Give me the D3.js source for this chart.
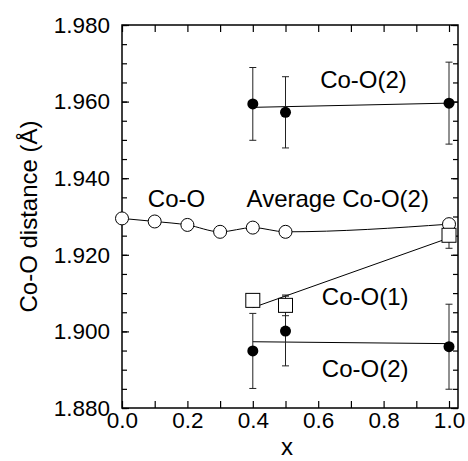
<!DOCTYPE html>
<html>
<head>
<meta charset="utf-8">
<script src="https://cdn.jsdelivr.net/npm/d3@7"></script>
<style>
  body { margin: 0; background: #fff; }
  svg text { font-family: "Liberation Sans", Arial, Helvetica, sans-serif; fill: #000; }
  .axis path { display: none; }
  .axis line { stroke: #000; stroke-width: 1.2; }
</style>
</head>
<body>
<div id="chart"></div>
<script>
// Co-O average distance (open circles)
const xCoO = [0.0, 0.1, 0.2, 0.3, 0.4, 0.5, 1.0];
const avgCoO = [1.9295, 1.9287, 1.9278, 1.926, 1.9271, 1.926, 1.928];

// substituted samples
const xSub = [0.4, 0.5, 1.0];
const coO2Upper = [1.9594, 1.9572, 1.9596];
const coO2UpperErr = [0.0095, 0.0093, 0.0107];
const coO1 = [1.9081, 1.9068, 1.9251];
const coO1Err = [0.0015, 0.0027, 0.0034];
const coO2Lower = [1.8949, 1.9001, 1.896];
const coO2LowerErr = [0.0098, 0.0091, 0.0111];

// linear fits
const fitX = [0.4, 1.0];
const fitUpper = [1.9585, 1.9596];
const fitCoO1 = [1.9062, 1.9244];
const fitLower = [1.8973, 1.8968];

const xTicks = [0, 0.1, 0.2, 0.3, 0.4, 0.5, 0.6, 0.7, 0.8, 0.9, 1.0];
const xLabels = [0, 0.2, 0.4, 0.6, 0.8, 1.0];
const yMajor = [1.88, 1.9, 1.92, 1.94, 1.96, 1.98];

const W = 468, H = 461;
const margin = { top: 25, right: 10, bottom: 53, left: 122 };
const width = W - margin.left - margin.right;
const height = H - margin.top - margin.bottom;

const svg = d3.select("#chart").append("svg")
  .attr("width", W)
  .attr("height", H);
const g = svg.append("g")
  .attr("transform", `translate(${margin.left},${margin.top})`);

const x = d3.scaleLinear().domain([0, 1.0275]).range([0, width]);
const y = d3.scaleLinear().domain([1.88, 1.98]).range([height, 0]);

const yMinor = d3.range(0, 21).map((i) => 1.88 + i * 0.005);

// axes: ticks point inward on all four sides
g.append("g").attr("class", "axis")
  .call(d3.axisLeft(y).tickValues(yMinor).tickSizeInner(-5).tickSizeOuter(0).tickFormat(""));
g.append("g").attr("class", "axis")
  .call(d3.axisLeft(y).tickValues(yMajor).tickSizeInner(-7).tickSizeOuter(0)
    .tickPadding(12).tickFormat(d3.format(".3f")))
  .selectAll("text").style("font-size", "22.5px");

g.append("g").attr("class", "axis")
  .attr("transform", `translate(${width},0)`)
  .call(d3.axisRight(y).tickValues(yMinor).tickSizeInner(-5).tickSizeOuter(0).tickFormat(""));
g.append("g").attr("class", "axis")
  .attr("transform", `translate(${width},0)`)
  .call(d3.axisRight(y).tickValues(yMajor).tickSizeInner(-7).tickSizeOuter(0).tickFormat(""));

g.append("g").attr("class", "axis")
  .attr("transform", `translate(0,${height})`)
  .call(d3.axisBottom(x).tickValues(xTicks).tickSizeInner(-7).tickSizeOuter(0).tickFormat(""));
g.append("g").attr("class", "axis")
  .attr("transform", `translate(0,${height})`)
  .call(d3.axisBottom(x).tickValues(xLabels).tickSize(0).tickPadding(4)
    .tickFormat(d3.format(".1f")))
  .selectAll("text").style("font-size", "22.5px");

g.append("g").attr("class", "axis")
  .call(d3.axisTop(x).tickValues(xTicks).tickSizeInner(-7).tickSizeOuter(0).tickFormat(""));

g.append("rect")
  .attr("width", width)
  .attr("height", height)
  .attr("fill", "none")
  .attr("stroke", "#000")
  .attr("stroke-width", 1.5);

// lines
const avgLine = d3.line()
  .x((d) => x(d[0]))
  .y((d) => y(d[1]))
  .curve(d3.curveMonotoneX);
g.append("path")
  .datum(xCoO.map((v, i) => [v, avgCoO[i]]))
  .attr("d", avgLine)
  .attr("fill", "none")
  .attr("stroke", "#000")
  .attr("stroke-width", 1);

const straight = d3.line().x((d) => x(d[0])).y((d) => y(d[1]));
[fitUpper, fitCoO1, fitLower].forEach((fit) => {
  g.append("path")
    .datum(fitX.map((v, i) => [v, fit[i]]))
    .attr("d", straight)
    .attr("fill", "none")
    .attr("stroke", "#000")
    .attr("stroke-width", 1);
});

// error bars
function errorBars(vals, errs) {
  const data = xSub.map((v, i) => ({ x: v, y: vals[i], e: errs[i] }));
  const eb = g.append("g").selectAll("g").data(data).join("g")
    .attr("stroke", "#222")
    .attr("stroke-width", 1);
  eb.append("line")
    .attr("x1", (d) => x(d.x)).attr("x2", (d) => x(d.x))
    .attr("y1", (d) => y(d.y - d.e)).attr("y2", (d) => y(d.y + d.e));
  eb.append("line")
    .attr("x1", (d) => x(d.x) - 3.5).attr("x2", (d) => x(d.x) + 3.5)
    .attr("y1", (d) => y(d.y - d.e)).attr("y2", (d) => y(d.y - d.e));
  eb.append("line")
    .attr("x1", (d) => x(d.x) - 3.5).attr("x2", (d) => x(d.x) + 3.5)
    .attr("y1", (d) => y(d.y + d.e)).attr("y2", (d) => y(d.y + d.e));
}
errorBars(coO2Upper, coO2UpperErr);
errorBars(coO2Lower, coO2LowerErr);
errorBars(coO1, coO1Err);

// markers
g.append("g").selectAll("circle")
  .data(xCoO.map((v, i) => [v, avgCoO[i]]))
  .join("circle")
  .attr("cx", (d) => x(d[0]))
  .attr("cy", (d) => y(d[1]))
  .attr("r", 6.5)
  .attr("fill", "#fff")
  .attr("stroke", "#000")
  .attr("stroke-width", 1);

[coO2Upper, coO2Lower].forEach((vals) => {
  g.append("g").selectAll("circle")
    .data(xSub.map((v, i) => [v, vals[i]]))
    .join("circle")
    .attr("cx", (d) => x(d[0]))
    .attr("cy", (d) => y(d[1]))
    .attr("r", 5.5)
    .attr("fill", "#000");
});

g.append("g").selectAll("rect")
  .data(xSub.map((v, i) => [v, coO1[i]]))
  .join("rect")
  .attr("x", (d) => x(d[0]) - 7)
  .attr("y", (d) => y(d[1]) - 7)
  .attr("width", 14)
  .attr("height", 14)
  .attr("fill", "#fff")
  .attr("stroke", "#000")
  .attr("stroke-width", 1);

// series labels
const labels = [
  { text: "Co-O(2)", x: 0.606, y: 1.9636 },
  { text: "Co-O", x: 0.079, y: 1.9326 },
  { text: "Average Co-O(2)", x: 0.381, y: 1.9326 },
  { text: "Co-O(1)", x: 0.611, y: 1.9069 },
  { text: "Co-O(2)", x: 0.611, y: 1.888 }
];
g.append("g").selectAll("text")
  .data(labels)
  .join("text")
  .attr("x", (d) => x(d.x))
  .attr("y", (d) => y(d.y))
  .style("font-size", "24px")
  .text((d) => d.text);

// axis titles
svg.append("text")
  .attr("transform", `translate(37,${margin.top + height / 2}) rotate(-90)`)
  .attr("text-anchor", "middle")
  .style("font-size", "24px")
  .text("Co-O distance (Å)");

svg.append("text")
  .attr("x", margin.left + width / 2 - 3)
  .attr("y", 455)
  .attr("text-anchor", "middle")
  .style("font-size", "24px")
  .text("x");
</script>
</body>
</html>
